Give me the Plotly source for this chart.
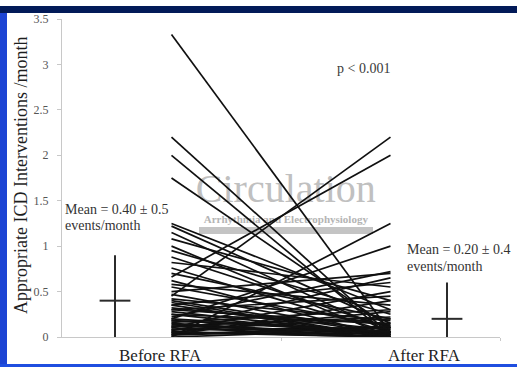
import plotly.graph_objects as go

# Appropriate ICD interventions per month, each patient before and after RFA
before_rfa = [3.33, 2.20, 2.00, 1.75, 1.25, 1.22, 1.15, 1.08, 1.00, 0.95,
              0.88, 0.82, 0.76, 0.70, 0.66, 0.62, 0.58, 0.55, 0.50, 0.47,
              0.45, 0.42, 0.38, 0.35, 0.32, 0.30, 0.28, 0.25, 0.22, 0.20,
              0.18, 0.16, 0.14, 0.12, 0.10, 0.08, 0.07, 0.06, 0.05, 0.04,
              0.03, 0.02, 0.00, 0.00, 0.10, 0.15, 0.20, 0.25, 0.30, 0.40,
              0.05, 0.08, 0.12, 0.02, 0.35, 0.18]
after_rfa = [0.05, 0.02, 0.00, 0.10, 0.30, 0.15, 0.05, 0.40, 0.00, 0.25,
             0.10, 0.55, 0.05, 0.20, 2.00, 0.00, 0.35, 0.12, 0.70, 0.03,
             2.20, 0.18, 0.00, 0.60, 0.08, 0.45, 0.02, 0.15, 0.72, 1.00,
             0.05, 0.30, 0.00, 0.22, 0.65, 0.10, 0.50, 0.00, 0.28, 0.04,
             0.12, 0.40, 1.25, 0.08, 0.00, 0.02, 0.06, 0.00, 0.14, 0.03,
             0.00, 0.20, 0.05, 0.10, 0.00, 0.06]

group_labels = ["Before RFA", "After RFA"]
group_means = [0.40, 0.20]
group_sds = [0.5, 0.4]
y_ticks = [0, 0.5, 1, 1.5, 2, 2.5, 3, 3.5]
y_tick_text = ["0", "0.5", "1", "1.5", "2", "2.5", "3", "3.5"]

# horizontal layout of the drawing (fraction of the x axis)
X_PAIR = (0.25, 0.75)
X_MEAN = (0.121, 0.879)

W, H = 517, 367
ML, MR, MT, MB = 62, 17, 13, 30
PW, PH = W - ML - MR, H - MT - MB


def px_x(p):
    return (p - ML) / PW


def px_y(p):
    return (H - MB - p) / PH


SERIF = "Liberation Serif, Times New Roman, serif"
INK = "#2b2b2b"

fig = go.Figure()

# journal watermark, drawn first so the patient lines pass over it
fig.add_trace(go.Scatter(
    x=[0.511, 0.511], y=[1.60, 1.285], mode="text",
    text=["Circulation", "<b>Arrhythmia and Electrophysiology</b>"],
    textfont=dict(family=SERIF, size=[40, 11], color=["#c0c0c0", "#b4b4b4"]),
    hoverinfo="skip", showlegend=False))

# patient lines
xs, ys = [], []
for b, a in zip(before_rfa, after_rfa):
    xs += [X_PAIR[0], X_PAIR[1], None]
    ys += [b, a, None]
fig.add_trace(go.Scatter(x=xs, y=ys, mode="lines",
                         line=dict(color="#101010", width=1.7),
                         hoverinfo="skip", showlegend=False))

# group means with SD bars (lower arm stops at zero)
fig.add_trace(go.Scatter(
    x=list(X_MEAN), y=group_means, mode="markers",
    marker=dict(symbol="line-ew-open", size=22, color=INK,
                line=dict(color=INK, width=2)),
    error_y=dict(type="data", symmetric=False, array=group_sds,
                 arrayminus=[min(m, s) for m, s in zip(group_means, group_sds)],
                 width=0, thickness=2, color=INK),
    hoverinfo="skip", showlegend=False))

annotations = [
    dict(text="Appropriate ICD Interventions /month", x=px_x(21), y=px_y(173),
         xanchor="center", textangle=-90,
         font=dict(family=SERIF, size=18, color="#1e1e1e")),
    dict(text=group_labels[0], x=px_x(160), y=px_y(356), xanchor="center",
         font=dict(family=SERIF, size=17, color="#1e1e1e")),
    dict(text=group_labels[1], x=px_x(424), y=px_y(356), xanchor="center",
         font=dict(family=SERIF, size=17, color="#1e1e1e")),
    dict(text=f"Mean = {group_means[0]:.2f} \u00b1 {group_sds[0]}",
         x=px_x(63), y=px_y(207), xanchor="left",
         font=dict(family=SERIF, size=14, color="#333333")),
    dict(text="events/month", x=px_x(63), y=px_y(223), xanchor="left",
         font=dict(family=SERIF, size=14, color="#333333")),
    dict(text=f"Mean = {group_means[1]:.2f} \u00b1 {group_sds[1]}",
         x=px_x(405), y=px_y(248), xanchor="left",
         font=dict(family=SERIF, size=14, color="#333333")),
    dict(text="events/month", x=px_x(405), y=px_y(265), xanchor="left",
         font=dict(family=SERIF, size=14, color="#333333")),
    dict(text="p < 0.001", x=px_x(335), y=px_y(63), xanchor="left",
         font=dict(family=SERIF, size=14, color="#3a3a3a")),
]
for a in annotations:
    a.update(xref="paper", yref="paper", yanchor="middle", showarrow=False)


def band(x0, y0, w, h, color):
    """Solid slide-frame band as a fixed-size annotation box."""
    return dict(text=" ", xref="paper", yref="paper", showarrow=False,
                x=px_x(x0), y=px_y(y0), xanchor="left", yanchor="top",
                width=w, height=h, bgcolor=color, borderpad=0, borderwidth=0,
                font=dict(size=1, color=color))


# slide frame: navy top band, blue left and bottom bands
annotations += [
    band(0, 0, W, 7, "#021a58"),
    band(0, 7, 7, H - 7, "#1c44d4"),
    band(0, 364, W, 3, "#1f4ee0"),
]

shapes = [
    # grey banner under the watermark title
    dict(type="rect", xref="paper", yref="paper", layer="below",
         x0=px_x(199), x1=px_x(373), y0=px_y(232), y1=px_y(225),
         fillcolor="#c4c4c4", line=dict(width=0)),
]

fig.update_layout(
    width=W, height=H,
    margin=dict(l=ML, r=MR, t=MT, b=MB, pad=0),
    paper_bgcolor="white", plot_bgcolor="white",
    showlegend=False,
    annotations=annotations, shapes=shapes,
    xaxis=dict(range=[0, 1], showgrid=False, zeroline=False,
               showline=True, linecolor="#c8c8c8", linewidth=1,
               tickvals=[0.5, 1], ticktext=["", ""], ticks="outside",
               ticklen=3, tickcolor="#c8c8c8", fixedrange=True),
    yaxis=dict(range=[0, 3.5], showgrid=False, zeroline=False,
               showline=True, linecolor="#c8c8c8", linewidth=1,
               tickvals=y_ticks, ticktext=y_tick_text, ticks="outside",
               ticklen=4, tickcolor="#c8c8c8", ticklabelstandoff=6,
               tickfont=dict(family=SERIF, size=12, color="#555555"),
               fixedrange=True),
)

fig.write_html("out.html")
